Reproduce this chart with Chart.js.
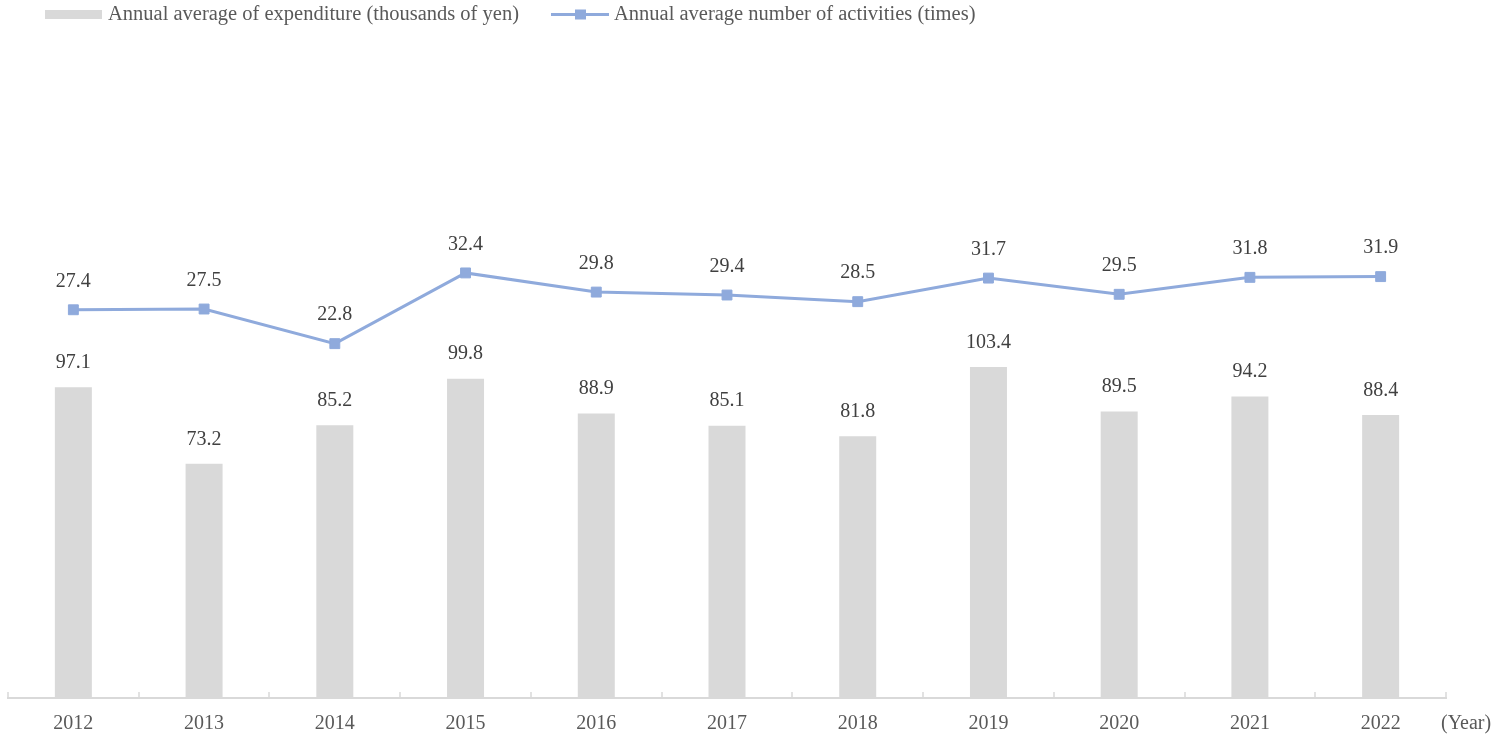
<!DOCTYPE html>
<html><head><meta charset="utf-8">
<script src="https://cdn.jsdelivr.net/npm/chart.js@4"></script>
<style>html,body{margin:0;padding:0;background:#fff}#wrap{width:1512px;height:737px;position:relative}</style>
</head><body><div id="wrap"><canvas id="c" width="1512" height="737"></canvas></div>
<script>
const years = ['2012','2013','2014','2015','2016','2017','2018','2019','2020','2021','2022'];
const expenditure = [97.1,73.2,85.2,99.8,88.9,85.1,81.8,103.4,89.5,94.2,88.4];
const activities = [27.4,27.5,22.8,32.4,29.8,29.4,28.5,31.7,29.5,31.8,31.9];
const seriesLabels = ['Annual average of expenditure (thousands of yen)','Annual average number of activities (times)'];
const axisUnit = '(Year)';

const FONT = '"Liberation Serif", "Times New Roman", serif';
const BAR_COLOR = '#d9d9d9';
const LINE_COLOR = '#8faadc';

const overlay = {
  id: 'overlay',
  afterDatasetsDraw(chart) {
    const ctx = chart.ctx, xs = chart.scales.x, area = chart.chartArea;
    ctx.save();
    ctx.font = '20px ' + FONT;
    ctx.textAlign = 'center';
    ctx.textBaseline = 'middle';
    ctx.fillStyle = '#404040';
    chart.getDatasetMeta(0).data.forEach((el, i) => {
      ctx.fillText(expenditure[i].toFixed(1), el.x, el.y - 24.5);
    });
    chart.getDatasetMeta(1).data.forEach((el, i) => {
      ctx.fillText(activities[i].toFixed(1), el.x, el.y - 28.5);
    });
    // category boundary tick marks (pointing up)
    const n = years.length;
    const step = xs.getPixelForValue(1) - xs.getPixelForValue(0);
    ctx.strokeStyle = BAR_COLOR;
    ctx.lineWidth = 1.5;
    for (let i = 0; i <= n; i++) {
      const px = Math.round(xs.getPixelForValue(0) - step / 2 + i * step);
      ctx.beginPath();
      ctx.moveTo(px, area.bottom);
      ctx.lineTo(px, area.bottom - 6);
      ctx.stroke();
    }
    // axis unit
    ctx.fillStyle = '#595959';
    ctx.textAlign = 'left';
    ctx.fillText(axisUnit, area.right - 5, 724);
    // legend
    ctx.font = '20.5px ' + FONT;
    ctx.fillStyle = BAR_COLOR;
    ctx.fillRect(45, 10, 57, 9);
    ctx.fillStyle = '#595959';
    ctx.fillText(seriesLabels[0], 108, 15);
    const w1 = ctx.measureText(seriesLabels[0]).width;
    const lx = 108 + w1 + 32;
    ctx.strokeStyle = LINE_COLOR;
    ctx.lineWidth = 3;
    ctx.beginPath();
    ctx.moveTo(lx, 14.5);
    ctx.lineTo(lx + 58, 14.5);
    ctx.stroke();
    ctx.fillStyle = LINE_COLOR;
    ctx.fillRect(lx + 24, 9.5, 11, 10);
    ctx.fillStyle = '#595959';
    ctx.fillText(seriesLabels[1], lx + 63, 15);
    ctx.restore();
  }
};

new Chart(document.getElementById('c'), {
  type: 'bar',
  data: {
    labels: years,
    datasets: [
      {
        type: 'bar',
        label: seriesLabels[0],
        data: expenditure,
        backgroundColor: BAR_COLOR,
        yAxisID: 'y',
        categoryPercentage: 1,
        barPercentage: 0.283,
        order: 2
      },
      {
        type: 'line',
        label: seriesLabels[1],
        data: activities,
        borderColor: LINE_COLOR,
        backgroundColor: LINE_COLOR,
        borderWidth: 3,
        tension: 0,
        pointStyle: 'rect',
        pointRadius: 7,
        pointBorderWidth: 1,
        pointBorderColor: LINE_COLOR,
        pointBackgroundColor: LINE_COLOR,
        yAxisID: 'y1',
        order: 1
      }
    ]
  },
  options: {
    responsive: false,
    animation: false,
    devicePixelRatio: 1,
    layout: { padding: { top: 186, left: 8, right: 66, bottom: 0 } },
    plugins: { legend: { display: false }, tooltip: { enabled: false }, title: { display: false } },
    scales: {
      x: {
        offset: true,
        grid: { display: false, drawTicks: false },
        border: { display: true, color: BAR_COLOR, width: 2 },
        ticks: { color: '#595959', font: { family: FONT, size: 20 }, padding: 14, maxRotation: 0, autoSkip: false },
        afterFit(scale) { scale.height = 39; }
      },
      y: { display: false, min: 0, max: 160 },
      y1: { display: false, min: -25.3, max: 44.2 }
    }
  },
  plugins: [overlay]
});
</script>
</body></html>
